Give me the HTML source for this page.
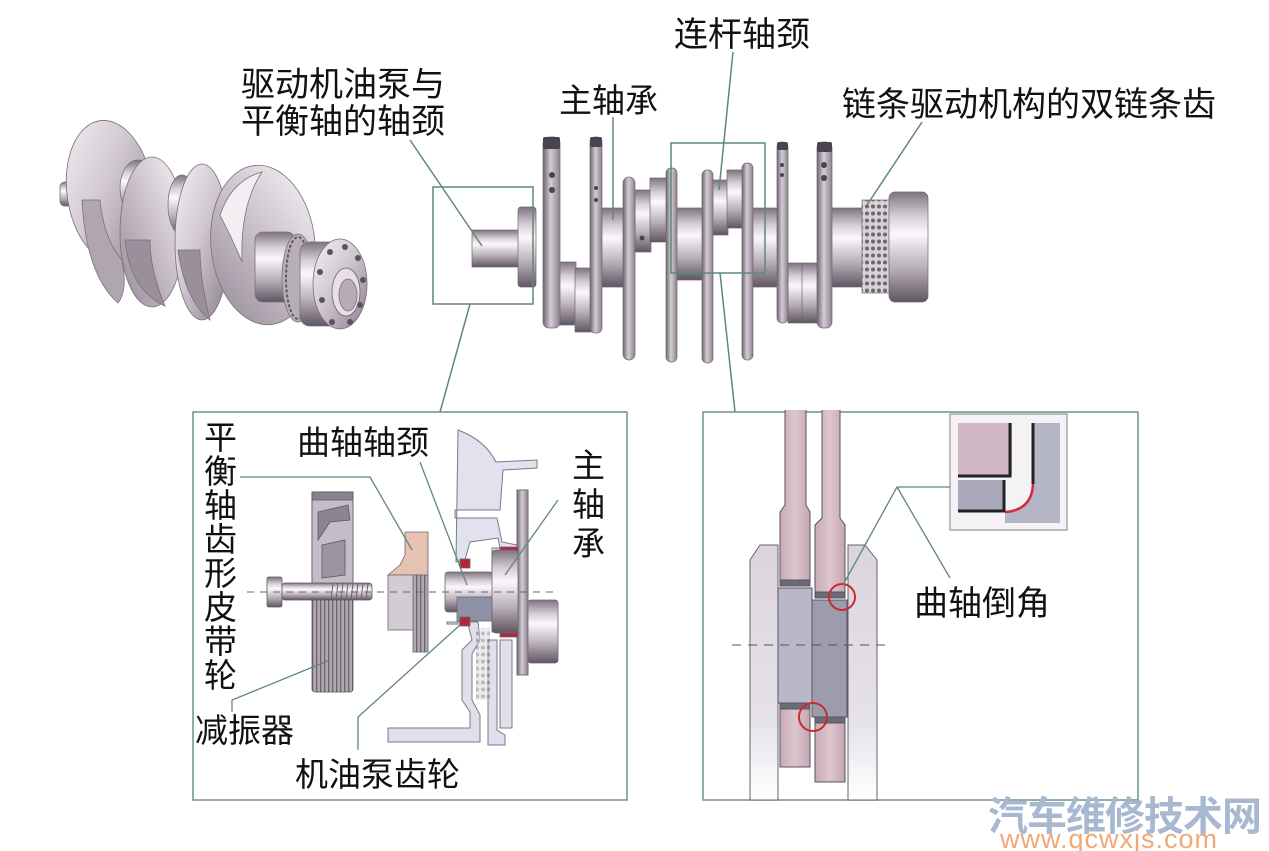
<!DOCTYPE html>
<html><head><meta charset="utf-8"><style>
html,body{margin:0;padding:0;background:#fff;}
svg{display:block;}
text{font-family:"Liberation Sans","Noto Sans CJK SC",sans-serif;fill:#111;}
</style></head><body>
<svg width="1269" height="851" viewBox="0 0 1269 851" xmlns="http://www.w3.org/2000/svg">
<defs>
<linearGradient id="cyl" x1="0" y1="0" x2="0" y2="1">
<stop offset="0" stop-color="#7e7480"/><stop offset="0.22" stop-color="#d6ced6"/><stop offset="0.38" stop-color="#fbf8fb"/><stop offset="0.7" stop-color="#b6acb6"/><stop offset="1" stop-color="#5e5662"/>
</linearGradient>
<linearGradient id="web" x1="0" y1="0" x2="1" y2="0">
<stop offset="0" stop-color="#6c6470"/><stop offset="0.45" stop-color="#d4ccd4"/><stop offset="1" stop-color="#8c828e"/>
</linearGradient>
<linearGradient id="disk" x1="0" y1="0" x2="1" y2="1">
<stop offset="0" stop-color="#f4f0f4"/><stop offset="0.45" stop-color="#d2c8d2"/><stop offset="1" stop-color="#8a808c"/>
</linearGradient>
<linearGradient id="disk2" x1="1" y1="0" x2="0" y2="1">
<stop offset="0" stop-color="#f8f4f8"/><stop offset="0.5" stop-color="#c8bec8"/><stop offset="1" stop-color="#958b97"/>
</linearGradient>
<linearGradient id="rod" x1="0" y1="0" x2="1" y2="0">
<stop offset="0" stop-color="#c8aab6"/><stop offset="0.5" stop-color="#dcc6ce"/><stop offset="1" stop-color="#c4a6b2"/>
</linearGradient>
<linearGradient id="webr" x1="0" y1="0" x2="0" y2="1">
<stop offset="0" stop-color="#dcd4dc"/><stop offset="0.7" stop-color="#e6e2ea"/><stop offset="1" stop-color="#ffffff"/>
</linearGradient>
<pattern id="ribs" width="4" height="10" patternUnits="userSpaceOnUse"><rect width="4" height="10" fill="#b2a8b2"/><rect width="1.3" height="10" fill="#6a626c"/></pattern>
<pattern id="chain" width="6" height="7" patternUnits="userSpaceOnUse"><rect width="6" height="7" fill="#d8d2d8"/><circle cx="3" cy="3.5" r="2" fill="#6e6670"/></pattern>
</defs>

<!-- ============ TOP LEFT 3D CRANKSHAFT ============ -->
<g stroke="#7a7078" stroke-width="0.8">
<rect x="60" y="182" width="22" height="24" rx="5" fill="url(#cyl)"/>
<ellipse cx="110" cy="192" rx="43" ry="72" fill="url(#disk)" transform="rotate(-8 110 192)"/>
<path d="M82,200 Q86,275 118,303 Q128,290 122,260 Q104,240 100,200 Z" fill="#b0a6b0"/>
<ellipse cx="138" cy="188" rx="18" ry="28" fill="url(#cyl)"/>
<ellipse cx="152" cy="232" rx="32" ry="75" fill="url(#disk2)"/>
<path d="M125,240 Q130,290 165,306 Q150,270 150,240 Z" fill="#9a909c"/>
<ellipse cx="182" cy="205" rx="14" ry="30" fill="url(#cyl)"/>
<ellipse cx="202" cy="242" rx="27" ry="78" fill="url(#disk)"/>
<path d="M178,250 Q185,300 210,320 Q200,280 200,250 Z" fill="#9a909c"/>
<ellipse cx="263" cy="245" rx="52" ry="80" fill="url(#disk2)" transform="rotate(-6 263 245)"/>
<path d="M220,215 Q232,180 262,172 Q240,205 242,262 Q232,238 220,215 Z" fill="#f2eef2"/>
<rect x="255" y="232" width="40" height="70" rx="8" fill="url(#cyl)"/>
<ellipse cx="298" cy="278" rx="16" ry="44" fill="#b8aeb8"/>
<ellipse cx="298" cy="278" rx="12" ry="41" fill="none" stroke="#5e5662" stroke-dasharray="3 2" stroke-width="2"/>
<rect x="300" y="242" width="40" height="84" rx="10" fill="url(#cyl)"/>
<ellipse cx="340" cy="284" rx="27" ry="45" fill="url(#disk)"/>
<ellipse cx="346" cy="292" rx="14" ry="24" fill="#e8e0e8" stroke="#6a626c"/>
<ellipse cx="348" cy="295" rx="9" ry="16" fill="#b8aab6"/>
</g>
<g fill="#5a525e">
<circle cx="330" cy="252" r="3"/><circle cx="345" cy="247" r="3"/><circle cx="358" cy="258" r="3"/><circle cx="363" cy="280" r="3"/><circle cx="360" cy="305" r="3"/><circle cx="350" cy="322" r="3"/><circle cx="332" cy="322" r="3"/><circle cx="322" cy="300" r="3"/><circle cx="320" cy="272" r="3"/>
</g>

<!-- ============ MAIN HORIZONTAL CRANKSHAFT ============ -->
<g stroke="#6e6670" stroke-width="0.7">
<rect x="472" y="230" width="48" height="37" fill="url(#cyl)"/>
<rect x="518" y="207" width="18" height="80" rx="3" fill="url(#cyl)"/>
<rect x="559" y="262" width="17" height="63" fill="url(#cyl)"/>
<rect x="575" y="268" width="17" height="64" fill="url(#cyl)"/>
<rect x="600" y="208" width="26" height="79" fill="url(#cyl)"/>
<rect x="635" y="190" width="16" height="62" fill="url(#cyl)"/>
<rect x="650" y="178" width="18" height="64" fill="url(#cyl)"/>
<rect x="676" y="208" width="28" height="72" fill="url(#cyl)"/>
<rect x="712" y="180" width="16" height="55" fill="url(#cyl)"/>
<rect x="727" y="170" width="18" height="58" fill="url(#cyl)"/>
<rect x="752" y="208" width="27" height="79" fill="url(#cyl)"/>
<rect x="788" y="263" width="15" height="60" fill="url(#cyl)"/>
<rect x="802" y="263" width="16" height="60" fill="url(#cyl)"/>
<rect x="831" y="208" width="32" height="79" fill="url(#cyl)"/>
<rect x="862" y="200" width="28" height="93" fill="url(#chain)"/>
<rect x="889" y="192" width="39" height="110" rx="6" fill="url(#cyl)"/>
<rect x="543" y="137" width="17" height="191" rx="6" fill="url(#web)"/>
<rect x="590" y="137" width="12" height="196" rx="5" fill="url(#web)"/>
<rect x="623" y="177" width="12" height="183" rx="6" fill="url(#web)"/>
<rect x="666" y="168" width="11" height="194" rx="5" fill="url(#web)"/>
<rect x="702" y="170" width="11" height="193" rx="5" fill="url(#web)"/>
<rect x="742" y="163" width="11" height="197" rx="5" fill="url(#web)"/>
<rect x="777" y="142" width="11" height="181" rx="5" fill="url(#web)"/>
<rect x="817" y="142" width="15" height="186" rx="6" fill="url(#web)"/>
</g>
<g fill="#4a4450">
<rect x="543" y="137" width="17" height="12" rx="2"/><rect x="590" y="137" width="12" height="10" rx="2"/>
<rect x="777" y="142" width="11" height="8" rx="2"/><rect x="817" y="142" width="15" height="10" rx="2"/>
<circle cx="552" cy="175" r="3"/><circle cx="552" cy="190" r="3"/><circle cx="596" cy="188" r="2"/><circle cx="596" cy="200" r="2"/>
<circle cx="782" cy="165" r="2"/><circle cx="782" cy="175" r="2"/><circle cx="824" cy="165" r="3"/><circle cx="824" cy="178" r="3"/>
<circle cx="642" cy="238" r="2.5"/>
</g>

<!-- ============ TOP LEADER LINES & BOXES ============ -->
<g stroke="#5f8878" stroke-width="1.5" fill="none">
<rect x="433" y="187" width="100" height="117"/>
<rect x="671" y="143" width="94" height="130"/>
<line x1="410" y1="140" x2="482" y2="246"/>
<line x1="470" y1="304" x2="440" y2="412"/>
<line x1="613" y1="117" x2="613" y2="220"/>
<line x1="733" y1="52" x2="719" y2="190"/>
<line x1="720" y1="273" x2="735" y2="412"/>
<line x1="922" y1="122" x2="867" y2="205"/>
</g>

<text x="241" y="96" font-size="34">驱动机油泵与</text>
<text x="241" y="133" font-size="34">平衡轴的轴颈</text>
<text x="559" y="112" font-size="33">主轴承</text>
<text x="674" y="46" font-size="34">连杆轴颈</text>
<text x="842" y="116" font-size="34">链条驱动机构的双链条齿</text>

<!-- ============ LOWER LEFT BOX ============ -->
<rect x="193" y="412" width="434" height="388" fill="none" stroke="#6e9484" stroke-width="1.5"/>
<g fill="#e0e0ec" stroke="#7a7a88" stroke-width="1">
<path d="M458,430 Q485,440 496,462 L537,460 L537,468 L503,470 L500,510 L455,510 L455,518 L497,518 L502,542 L517,545 L517,490 L528,490 L528,675 L517,675 L517,632 L492,632 L492,548 L500,548 L498,538 L470,542 L465,560 L456,562 Z" fill="#e2e2ee"/>
<path d="M447,624 L468,624 L472,640 L462,650 L462,700 L470,712 L470,728 L388,728 L388,742 L480,742 L480,715 L472,700 L472,654 L480,640 L478,622 L447,622 Z"/>
<path d="M488,640 L497,640 L497,730 L505,735 L505,745 L488,745 Z"/>
<path d="M500,640 L512,640 L512,728 L500,728 Z"/>
</g>
<rect x="517" y="490" width="11" height="185" fill="url(#web)" stroke="#6e6670" stroke-width="0.8"/>
<rect x="476" y="628" width="14" height="72" fill="url(#chain)" opacity="0.45"/>
<g stroke="#5e5662" stroke-width="0.8">
<rect x="312" y="492" width="41" height="200" rx="3" fill="url(#ribs)"/>
<rect x="312" y="492" width="41" height="92" fill="#c4bcc6"/>
<path d="M312,500 L353,500 L353,492 L312,492 Z" fill="#8a828c"/>
<path d="M318,512 L348,505 L350,520 L330,522 L318,540 Z" fill="#8c8490"/>
<path d="M322,545 L345,540 L345,575 L322,578 Z" fill="#9c94a0"/>
</g>
<g stroke="#5e5662" stroke-width="0.8">
<rect x="267" y="577" width="15" height="30" rx="2" fill="url(#cyl)"/>
<rect x="282" y="583" width="90" height="17" rx="3" fill="url(#cyl)"/>
</g>
<g stroke="#6a626c" stroke-width="1">
<line x1="333" y1="583" x2="331" y2="600"/><line x1="338" y1="583" x2="336" y2="600"/><line x1="343" y1="583" x2="341" y2="600"/><line x1="348" y1="583" x2="346" y2="600"/><line x1="353" y1="583" x2="351" y2="600"/><line x1="358" y1="583" x2="356" y2="600"/><line x1="363" y1="583" x2="361" y2="600"/><line x1="368" y1="583" x2="366" y2="600"/>
</g>
<g stroke="#6e6670" stroke-width="0.8">
<path d="M388,575 L400,565 L405,555 L405,532 L428,532 L428,575 Z" fill="#e6c2b2"/>
<rect x="388" y="575" width="30" height="55" fill="#d4ccd4"/>
<rect x="413" y="575" width="15" height="77" fill="url(#ribs)"/>
</g>
<g stroke="#6e6670" stroke-width="0.8">
<rect x="445" y="572" width="48" height="40" rx="3" fill="url(#cyl)"/>
<rect x="457" y="597" width="35" height="24" fill="#8e92a6"/>
<rect x="460" y="559" width="10" height="9" fill="#b02838"/>
<rect x="460" y="617" width="10" height="9" fill="#b02838"/>
<rect x="500" y="547" width="18" height="6" fill="#b02838"/>
<rect x="500" y="632" width="18" height="5" fill="#b02838"/>
<rect x="492" y="550" width="26" height="83" rx="4" fill="url(#cyl)"/>
<rect x="528" y="600" width="30" height="63" rx="3" fill="url(#cyl)"/>
</g>
<line x1="247" y1="592" x2="555" y2="592" stroke="#666" stroke-width="1" stroke-dasharray="7 6"/>
<g stroke="#5f8878" stroke-width="1.3" fill="none">
<polyline points="240,477 370,477 412,550"/>
<line x1="420" y1="462" x2="467" y2="585"/>
<line x1="558" y1="500" x2="505" y2="575"/>
<polyline points="232,712 232,700 330,660"/>
<polyline points="358,750 358,717 460,625"/>
</g>
<g font-size="33">
<text x="204" y="449">平</text><text x="204" y="483">衡</text><text x="204" y="517">轴</text><text x="204" y="551">齿</text><text x="204" y="585">形</text><text x="204" y="619">皮</text><text x="204" y="653">带</text><text x="204" y="687">轮</text>
<text x="297" y="454">曲轴轴颈</text>
<text x="572" y="477">主</text><text x="572" y="516">轴</text><text x="572" y="555">承</text>
<text x="195" y="742">减振器</text>
<text x="295" y="786">机油泵齿轮</text>
</g>

<!-- ============ LOWER RIGHT BOX ============ -->
<rect x="703" y="412" width="435" height="388" fill="none" stroke="#6e9484" stroke-width="1.5"/>
<path d="M750,800 L750,560 L760,545 L778,545 L778,800 Z" fill="url(#webr)" stroke="#6a6270" stroke-width="1"/>
<path d="M848,800 L848,545 L865,545 L877,560 L877,800 Z" fill="url(#webr)" stroke="#6a6270" stroke-width="1"/>
<g stroke="#5a5260" stroke-width="1">
<path d="M785,410 L785,505 L780,512 L780,580 L810,580 L810,512 L806,505 L806,410" fill="url(#rod)"/>
<path d="M822,410 L822,518 L815,525 L815,592 L845,592 L845,525 L840,518 L840,410" fill="url(#rod)"/>
<rect x="778" y="588" width="34" height="115" fill="#b8b8c8"/>
<rect x="812" y="600" width="35" height="117" fill="#9c9cae"/>
<rect x="780" y="580" width="30" height="6" fill="#6a6a78"/>
<rect x="815" y="592" width="30" height="6" fill="#6a6a78"/>
<rect x="780" y="703" width="30" height="6" fill="#6a6a78"/>
<rect x="815" y="717" width="30" height="6" fill="#6a6a78"/>
<rect x="780" y="709" width="30" height="58" fill="url(#rod)"/>
<rect x="815" y="723" width="30" height="59" fill="url(#rod)"/>
</g>
<line x1="732" y1="645" x2="890" y2="645" stroke="#555" stroke-width="1" stroke-dasharray="9 7"/>
<circle cx="842" cy="597" r="13" fill="none" stroke="#cc2a30" stroke-width="2"/>
<circle cx="813" cy="717" r="14" fill="none" stroke="#cc2a30" stroke-width="2"/>
<rect x="950" y="414" width="117" height="116" fill="#f4f2f4" stroke="#a8a8a8" stroke-width="1.5"/>
<rect x="958" y="423" width="54" height="52" fill="#d0b8c4"/>
<rect x="958" y="480" width="45" height="30" fill="#a8a8b8"/>
<path d="M1032,423 L1060,423 L1060,523 L1005,523 L1005,513 Q1032,510 1034,483 Z" fill="#b4b6c8"/>
<path d="M1010,423 L1010,476 L958,476" fill="none" stroke="#222" stroke-width="3"/>
<path d="M1004,480 L1004,511 L958,511" fill="none" stroke="#222" stroke-width="3"/>
<line x1="1033" y1="423" x2="1033" y2="484" stroke="#222" stroke-width="3"/>
<path d="M1033,484 Q1032,510 1005,512" fill="none" stroke="#d42a3a" stroke-width="2.5"/>
<g stroke="#5f8878" stroke-width="1.3" fill="none">
<line x1="897" y1="487" x2="950" y2="487"/>
<line x1="897" y1="487" x2="843" y2="585"/>
<line x1="897" y1="487" x2="950" y2="578"/>
</g>
<text x="914" y="615" font-size="34">曲轴倒角</text>

<text x="988" y="830" font-size="40" font-weight="bold" style="fill:#a8b8d0;letter-spacing:-1px">汽车维修技术网</text>
<text x="1000" y="848" font-size="27" style="fill:#f0a878;letter-spacing:1px">www.qcwxjs.com</text>
</svg>
</body></html>
